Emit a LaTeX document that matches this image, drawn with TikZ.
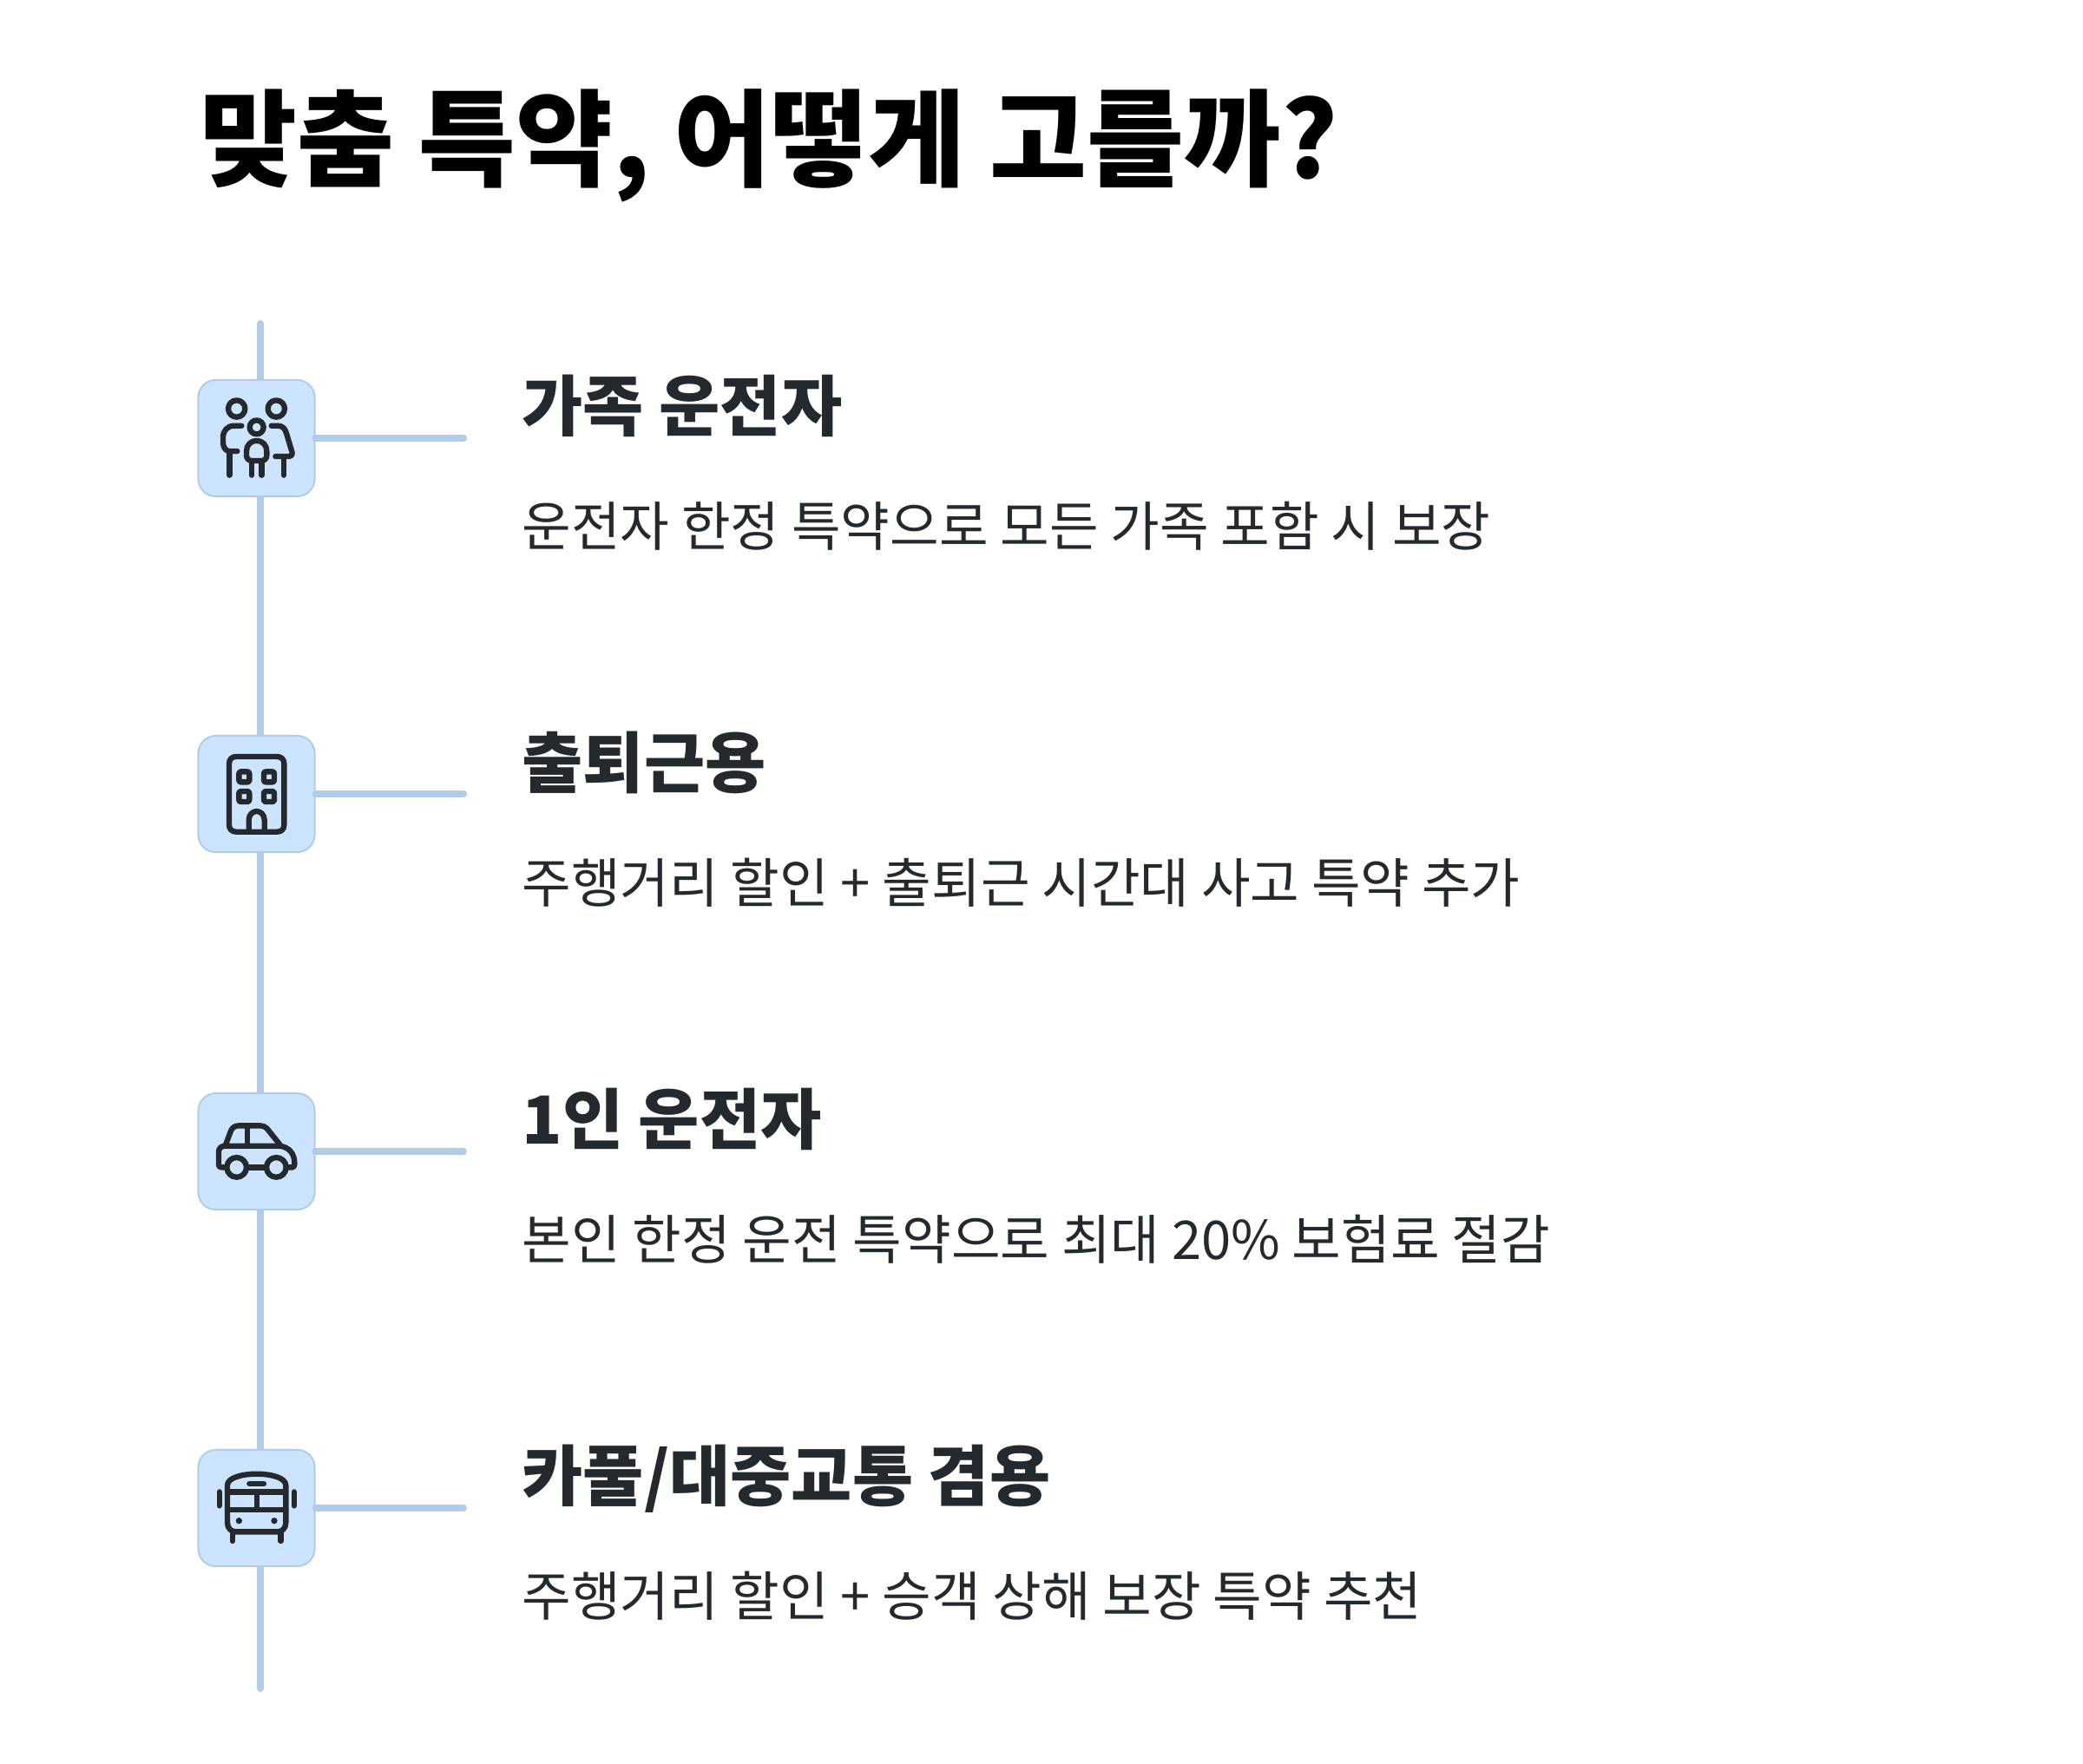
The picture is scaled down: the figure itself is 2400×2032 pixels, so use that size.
\documentclass[tikz,border=0pt]{standalone}
\usepackage{fontspec}
\setmainfont{Noto Sans CJK KR}
\definecolor{linec}{HTML}{B3CCE6}
\definecolor{boxfill}{HTML}{CCE4FF}
\definecolor{ink}{HTML}{24292E}
\tikzset{
  spine/.style={draw=linec,line width=2.3pt,line cap=round},
  iconbox/.style={draw=linec,line width=0.57pt,fill=boxfill,rounded corners=0.2cm,minimum size=1.34cm,inner sep=0pt},
  icon/.style={draw=ink,line width=1.8pt,line cap=round,line join=round},
  titletext/.style={anchor=base west,inner sep=0pt,text=black,font=\fontsize{34.6pt}{40pt}\selectfont\bfseries},
  headtext/.style={anchor=base west,inner sep=0pt,text=ink,font=\fontsize{21.7pt}{26pt}\selectfont\bfseries},
  bodytext/.style={anchor=base west,inner sep=0pt,text=ink,font=\fontsize{17.5pt}{21pt}\selectfont},
}
\begin{document}
\begin{tikzpicture}[x=0.01cm,y=-0.01cm]
\useasboundingbox (0,0) rectangle (2400,2032);
\coordinate (spineT) at (300,373);
\coordinate (spineB) at (300,1946);
\draw[spine] (spineT) -- (spineB);
\node[iconbox] (b1) at (295.5,505) {};
\node[iconbox] (b2) at (295.5,915) {};
\node[iconbox] (b3) at (295.5,1327) {};
\node[iconbox] (b4) at (295.5,1738) {};
\coordinate (e1) at (534,505);
\coordinate (e2) at (534,915);
\coordinate (e3) at (534,1327);
\coordinate (e4) at (534,1738);
\draw[spine] (b1.east) -- (e1);
\draw[spine] (b2.east) -- (e2);
\draw[spine] (b3.east) -- (e3);
\draw[spine] (b4.east) -- (e4);
\node[titletext] (t) at (230,205) {맞춤 특약, 어떻게 고를까?};
\node[headtext] (h1) at (601,496) {가족 운전자};
\node[bodytext] (d1) at (601,629) {운전자 한정 특약으로 모든 가족 포함 시 보장};
\node[headtext] (h2) at (601,907) {출퇴근용};
\node[bodytext] (d2) at (601,1040) {주행거리 할인 + 출퇴근 시간대 사고 특약 추가};
\node[headtext] (h3) at (601,1318) {1인 운전자};
\node[bodytext] (d3) at (601,1451) {본인 한정 운전 특약으로 최대 20\% 보험료 절감};
\node[headtext] (h4) at (601,1729) {카풀/대중교통 겸용};
\node[bodytext] (d4) at (601,1862) {주행거리 할인 + 승객 상해 보장 특약 추천};
% family
\begin{scope}[shift={(210,350)},x=0.01cm/3,y=-0.01cm/3]
\draw[icon] (188,363) circle (29);
\draw[icon] (325,363) circle (29);
\draw[icon] (257,427) circle (24);
\draw[icon] (205,422) -- (180,422) .. controls (155,422) and (141,440) .. (141,462) -- (141,480) .. controls (141,498) and (152,510) .. (163,510) -- (190,510);
\draw[icon] (163,510) -- (163,593);
\draw[icon] (308,422) -- (330,422) .. controls (345,422) and (355,430) .. (360,448) -- (380,515) .. controls (381,522) and (378,528) .. (370,528) -- (322,528);
\draw[icon] (351,528) -- (351,593);
\draw[icon] (257,474) .. controls (235,474) and (222,490) .. (222,510) -- (222,525) .. controls (222,535) and (230,543) .. (240,543) -- (274,543) .. controls (284,543) and (292,535) .. (292,525) -- (292,510) .. controls (292,490) and (279,474) .. (257,474) -- cycle;
\draw[icon] (240,543) -- (240,593);
\draw[icon] (274,543) -- (274,593);
\end{scope}
% building
\begin{scope}[shift={(210,830)},x=0.01cm/3,y=-0.01cm/3]
\draw[icon] (162,150) .. controls (162,135) and (172,126) .. (186,126) -- (328,126) .. controls (342,126) and (352,135) .. (352,150) -- (352,362) .. controls (352,377) and (342,386) .. (328,386) -- (186,386) .. controls (172,386) and (162,377) .. (162,362) -- cycle;
\foreach \cx/\cy in {214/196,300/196,214/264,300/264}{
  \draw[icon,rounded corners=0.6pt] (\cx-18,\cy-18) rectangle (\cx+18,\cy+18);
}
\draw[icon] (230,386) -- (230,345) .. controls (230,325) and (245,315) .. (257,315) .. controls (269,315) and (284,325) .. (284,345) -- (284,386);
\end{scope}
% car
\begin{scope}[shift={(210,1240)},x=0.01cm/3,y=-0.01cm/3]
\draw[icon] (150,316) -- (135,316) .. controls (128,316) and (126,312) .. (126,306) -- (126,262) .. controls (126,250) and (135,242) .. (148,242) -- (335,242) .. controls (370,245) and (388,270) .. (388,300) -- (388,306) .. controls (388,312) and (385,316) .. (380,316) -- (362,316);
\draw[icon] (228,316) -- (288,316);
\draw[icon] (150,238) -- (166,195) .. controls (171,180) and (180,172) .. (195,172) -- (270,172) .. controls (280,172) and (288,176) .. (293,182) -- (338,238);
\draw[icon] (224,172) -- (224,242);
\draw[icon] (188,316) circle (34);
\draw[icon] (325,316) circle (34);
\end{scope}
% bus
\begin{scope}[shift={(210,1650)},x=0.01cm/3,y=-0.01cm/3]
\draw[icon] (156,315) -- (156,185) .. controls (156,160) and (205,146) .. (257,146) .. controls (309,146) and (358,160) .. (358,185) -- (358,315) .. controls (358,333) and (345,346) .. (330,346) -- (184,346) .. controls (169,346) and (156,333) .. (156,315) -- cycle;
\draw[icon] (156,208) -- (358,208);
\draw[icon] (156,270) -- (358,270);
\draw[icon] (257,208) -- (257,270);
\draw[icon] (232,180) -- (282,180);
\draw[icon] (128,208) -- (128,256);
\draw[icon] (386,208) -- (386,256);
\draw[icon] (173,346) -- (173,378);
\draw[icon] (340,346) -- (340,378);
\fill[ink] (196,308) circle (11);
\fill[ink] (318,308) circle (11);
\end{scope}
\end{tikzpicture}
\end{document}
